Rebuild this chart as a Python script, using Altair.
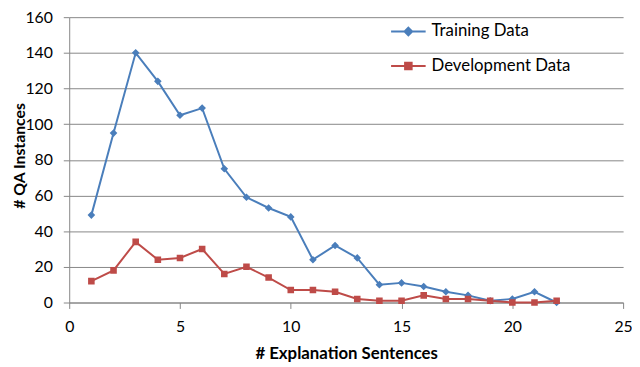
import altair as alt
import pandas as pd

sentences = list(range(1, 23))
training = [49, 95, 140, 124, 105, 109, 75, 59, 53, 48, 24, 32, 25, 10, 11, 9, 6, 4, 1, 2, 6, 0]
development = [12, 18, 34, 24, 25, 30, 16, 20, 14, 7, 7, 6, 2, 1, 1, 4, 2, 2, 1, 0, 0, 1]
series_names = ["Training Data", "Development Data"]
colors = ["#4A7EBB", "#BE4B48"]

rows = []
for s, t, d in zip(sentences, training, development):
    rows.append({"x": s, "y": t, "series": series_names[0]})
    rows.append({"x": s, "y": d, "series": series_names[1]})
df = pd.DataFrame(rows)

FONT = "Lato"

# symbol = horizontal stroke (legend only, zero area) + filled marker
shapes = [
    "M-1,0H1M0,-0.22L0.22,0L0,0.22L-0.22,0Z",
    "M-1,0H1M-0.19,-0.19H0.19V0.19H-0.19Z",
]

legend = alt.Legend(
    title=None, orient="none", legendX=325, legendY=-4,
    padding=0, symbolSize=1225, symbolStrokeWidth=2,
    labelFontSize=17, labelFont=FONT, labelColor="#000000",
    labelOffset=5, rowPadding=8, symbolOpacity=1,
)

color_scale = alt.Scale(domain=series_names, range=colors)

base = alt.Chart(df).encode(
    x=alt.X("x:Q", scale=alt.Scale(domain=[0, 25], nice=False),
            axis=alt.Axis(values=[0, 5, 10, 15, 20, 25], title="# Explanation Sentences",
                          grid=False, tickSize=6, labelPadding=10, titlePadding=12,
                          labelFlush=False)),
    y=alt.Y("y:Q", scale=alt.Scale(domain=[0, 160], nice=False),
            axis=alt.Axis(values=list(range(0, 161, 20)), title="# QA Instances",
                          grid=True, tickSize=6, labelPadding=11,
                          titleX=-42, titleY=140, titleFontSize=16,
                          labelFlush=False)),
)

lines = base.mark_line(strokeWidth=2).encode(
    stroke=alt.Stroke("series:N", scale=color_scale, sort=series_names, legend=legend),
)

points = base.mark_point(filled=True, opacity=1, strokeWidth=0, size=1225).encode(
    fill=alt.Fill("series:N", scale=color_scale, sort=series_names, legend=legend),
    stroke=alt.Stroke("series:N", scale=color_scale, sort=series_names, legend=legend),
    shape=alt.Shape("series:N", scale=alt.Scale(domain=series_names, range=shapes),
                    sort=series_names, legend=legend),
)

chart = alt.layer(lines, points).properties(
    width=561, height=289,
    autosize=alt.AutoSizeParams(type="none"),
    padding={"left": 62, "top": 7, "right": 9, "bottom": 60},
).configure_view(stroke=None).configure_axis(
    domainColor="#868686", tickColor="#868686", gridColor="#868686", gridOpacity=1,
    labelFont=FONT, labelFontSize=16, labelColor="#000000",
    titleFont=FONT, titleFontSize=17, titleFontWeight="bold", titleColor="#000000",
)

chart.save("out.html", embed_options={"renderer": "svg", "actions": False})
